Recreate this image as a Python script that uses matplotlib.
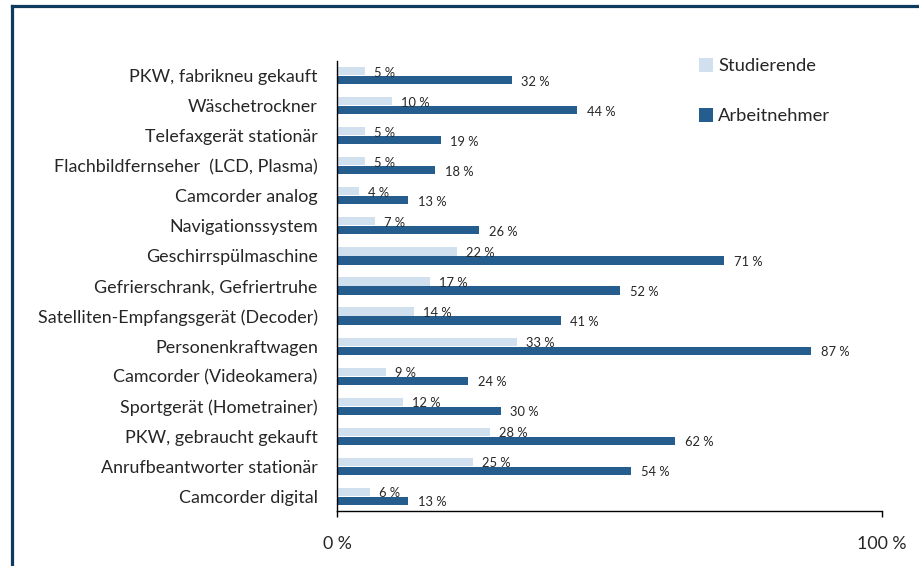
import matplotlib
matplotlib.use("Agg")
import matplotlib.pyplot as plt
from matplotlib.lines import Line2D
import numpy as np

categories = [
    "PKW, fabrikneu gekauft",
    "Wäschetrockner",
    "Telefaxgerät stationär",
    "Flachbildfernseher  (LCD, Plasma)",
    "Camcorder analog",
    "Navigationssystem",
    "Geschirrspülmaschine",
    "Gefrierschrank, Gefriertruhe",
    "Satelliten-Empfangsgerät (Decoder)",
    "Personenkraftwagen",
    "Camcorder (Videokamera)",
    "Sportgerät (Hometrainer)",
    "PKW, gebraucht gekauft",
    "Anrufbeantworter stationär",
    "Camcorder digital",
]
studierende = [5, 10, 5, 5, 4, 7, 22, 17, 14, 33, 9, 12, 28, 25, 6]
arbeitnehmer = [32, 44, 19, 18, 13, 26, 71, 52, 41, 87, 24, 30, 62, 54, 13]
series_names = ["Studierende", "Arbeitnehmer"]
xtick_values = [0, 100]
xtick_labels = ["0 %", "100 %"]

FONT = "Lato"
TXT = "#262626"
LIGHT = "#D0E0EE"
DARK = "#245D8E"
FRAME = "#0E3A5D"

W, H = 920, 566
fig = plt.figure(figsize=(W / 100, H / 100), dpi=100)
left, right, top, bottom = 337.3, 881.7, 60.7, 511.3
ax = fig.add_axes([left / W, 1 - bottom / H, (right - left) / W, (bottom - top) / H])

y = np.arange(len(categories))
bh = 0.27
off = 0.15
b1 = ax.barh(y - off, studierende, height=bh, color=LIGHT, label=series_names[0])
b2 = ax.barh(y + off, arbeitnehmer, height=bh, color=DARK, label=series_names[1])

for yy, v in zip(y - off, studierende):
    ax.annotate(f"{v} %", (v, yy), xytext=(6.5, -1.2), textcoords="offset points",
                ha="left", va="center", fontsize=9.3, color=TXT, family=FONT)
for yy, v in zip(y + off, arbeitnehmer):
    ax.annotate(f"{v} %", (v, yy), xytext=(7, -1.2), textcoords="offset points",
                ha="left", va="center", fontsize=9.3, color=TXT, family=FONT)

ax.set_xlim(0, 100)
ax.set_ylim(len(categories) - 0.5, -0.5)
ax.set_yticks(y)
ax.set_yticklabels(categories, fontsize=12.9, color=TXT, family=FONT)
ax.tick_params(axis="y", length=0, pad=14)
ax.set_xticks(xtick_values)
ax.set_xticklabels(xtick_labels, fontsize=12.8, color=TXT, family=FONT)
ax.tick_params(axis="x", length=4.5, width=1, color="black", pad=13)

for s in ["top", "right"]:
    ax.spines[s].set_visible(False)
for s in ["left", "bottom"]:
    ax.spines[s].set_color("black")
    ax.spines[s].set_linewidth(1)

leg = fig.legend(handles=[b1, b2], labels=series_names, loc="upper left",
                 bbox_to_anchor=(690 / W, 1 - 49 / H), frameon=False,
                 handlelength=0.75, handleheight=0.75, handletextpad=0.3,
                 labelspacing=1.85, borderpad=0,
                 prop={"family": FONT, "size": 13.2})
for t in leg.get_texts():
    t.set_color(TXT)

# outer frame (clipped on right/bottom like the reference)
fig.add_artist(Line2D([12.5 / W, 12.5 / W], [0, 1 - 5.5 / H], transform=fig.transFigure,
                      color=FRAME, lw=2.3, solid_capstyle="projecting"))
fig.add_artist(Line2D([12.5 / W, 1], [1 - 5.5 / H, 1 - 5.5 / H], transform=fig.transFigure,
                      color=FRAME, lw=2.3, solid_capstyle="projecting"))

fig.savefig("out.png", dpi=100)
